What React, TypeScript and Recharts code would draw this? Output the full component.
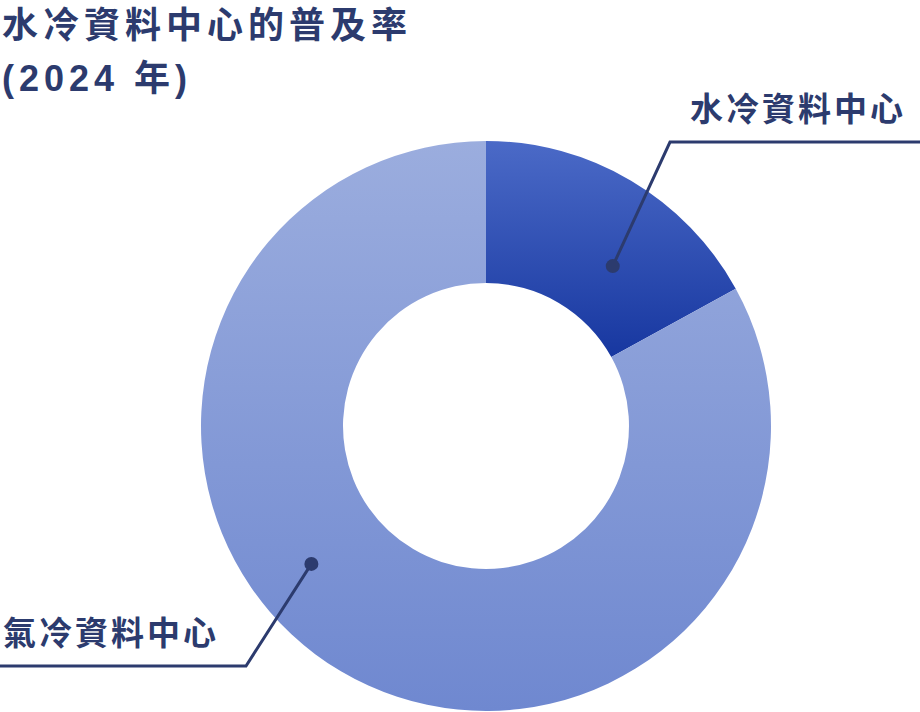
import React from "react";
import { PieChart, Pie, Cell } from "recharts";

const categories = ["水冷資料中心", "氣冷資料中心"];
const shares = [17, 83];
const titleLines = ["水冷資料中心的普及率", "(2024 年)"];

const data = categories.map((name, i) => ({ name, value: shares[i] }));

const gradients = [
  { id: "gWater", top: "#4b6ac7", bottom: "#1737a0" },
  { id: "gAir", top: "#9badde", bottom: "#6f88d0" },
];

// label leader styling per slice: anchor angle (deg), radius fraction in ring, elbow offset from center, side
const labelCfg = [
  { angle: 51.6, frac: 0.43, elbowDx: 184, elbowDy: -284, side: "right" },
  { angle: 218.3, frac: 0.56, elbowDx: -240, elbowDy: 240, side: "left" },
];

const W = 920;
const H = 712;
const INK = "#2c3b6e";
const FONT = "'Liberation Sans', 'Noto Sans CJK TC', 'Noto Sans CJK SC', sans-serif";

const renderLabel = (props: any) => {
  const { cx, cy, innerRadius, outerRadius, index, name } = props;
  const c = labelCfg[index];
  const r = innerRadius + (outerRadius - innerRadius) * c.frac;
  const rad = (c.angle * Math.PI) / 180;
  const dx = cx + r * Math.cos(rad);
  const dy = cy - r * Math.sin(rad);
  const ex = cx + c.elbowDx;
  const ey = cy + c.elbowDy;
  const endX = c.side === "right" ? W : 0;
  const tx = c.side === "right" ? ex + 20 : 3;
  return (
    <g key={`lbl-${index}`}>
      <polyline
        points={`${dx},${dy} ${ex},${ey} ${endX},${ey}`}
        fill="none"
        stroke={INK}
        strokeWidth={3}
      />
      <circle cx={dx} cy={dy} r={7} fill={INK} />
      <text
        x={tx}
        y={ey - 21}
        fill={INK}
        fontFamily={FONT}
        fontSize={33}
        fontWeight={700}
        letterSpacing={3}
        textAnchor="start"
      >
        {name}
      </text>
    </g>
  );
};

export default function App() {
  return (
    <div
      style={{
        position: "absolute",
        left: 0,
        top: 0,
        width: W,
        height: H,
        background: "#fff",
        overflow: "hidden",
      }}
    >
      <PieChart width={W} height={H} margin={{ top: 0, right: 0, bottom: 0, left: 0 }}>
        <defs>
          {gradients.map((g) => (
            <linearGradient key={g.id} id={g.id} x1="0" y1="0" x2="0" y2="1">
              <stop offset="0%" stopColor={g.top} />
              <stop offset="100%" stopColor={g.bottom} />
            </linearGradient>
          ))}
        </defs>
        <Pie
          data={data}
          dataKey="value"
          nameKey="name"
          cx={486}
          cy={426}
          innerRadius={143}
          outerRadius={285}
          startAngle={90}
          endAngle={-270}
          stroke="none"
          isAnimationActive={false}
          label={renderLabel}
          labelLine={false}
        >
          {data.map((d, i) => (
            <Cell key={d.name} fill={`url(#${gradients[i].id})`} />
          ))}
        </Pie>
      </PieChart>
      <svg
        width={W}
        height={110}
        style={{ position: "absolute", left: 0, top: 0, pointerEvents: "none" }}
      >
        {titleLines.map((t, i) => (
          <text
            key={t}
            x={2}
            y={38 + i * 53}
            fill={INK}
            fontFamily={FONT}
            fontSize={36}
            fontWeight={700}
            letterSpacing={5}
          >
            {t}
          </text>
        ))}
      </svg>
    </div>
  );
}
